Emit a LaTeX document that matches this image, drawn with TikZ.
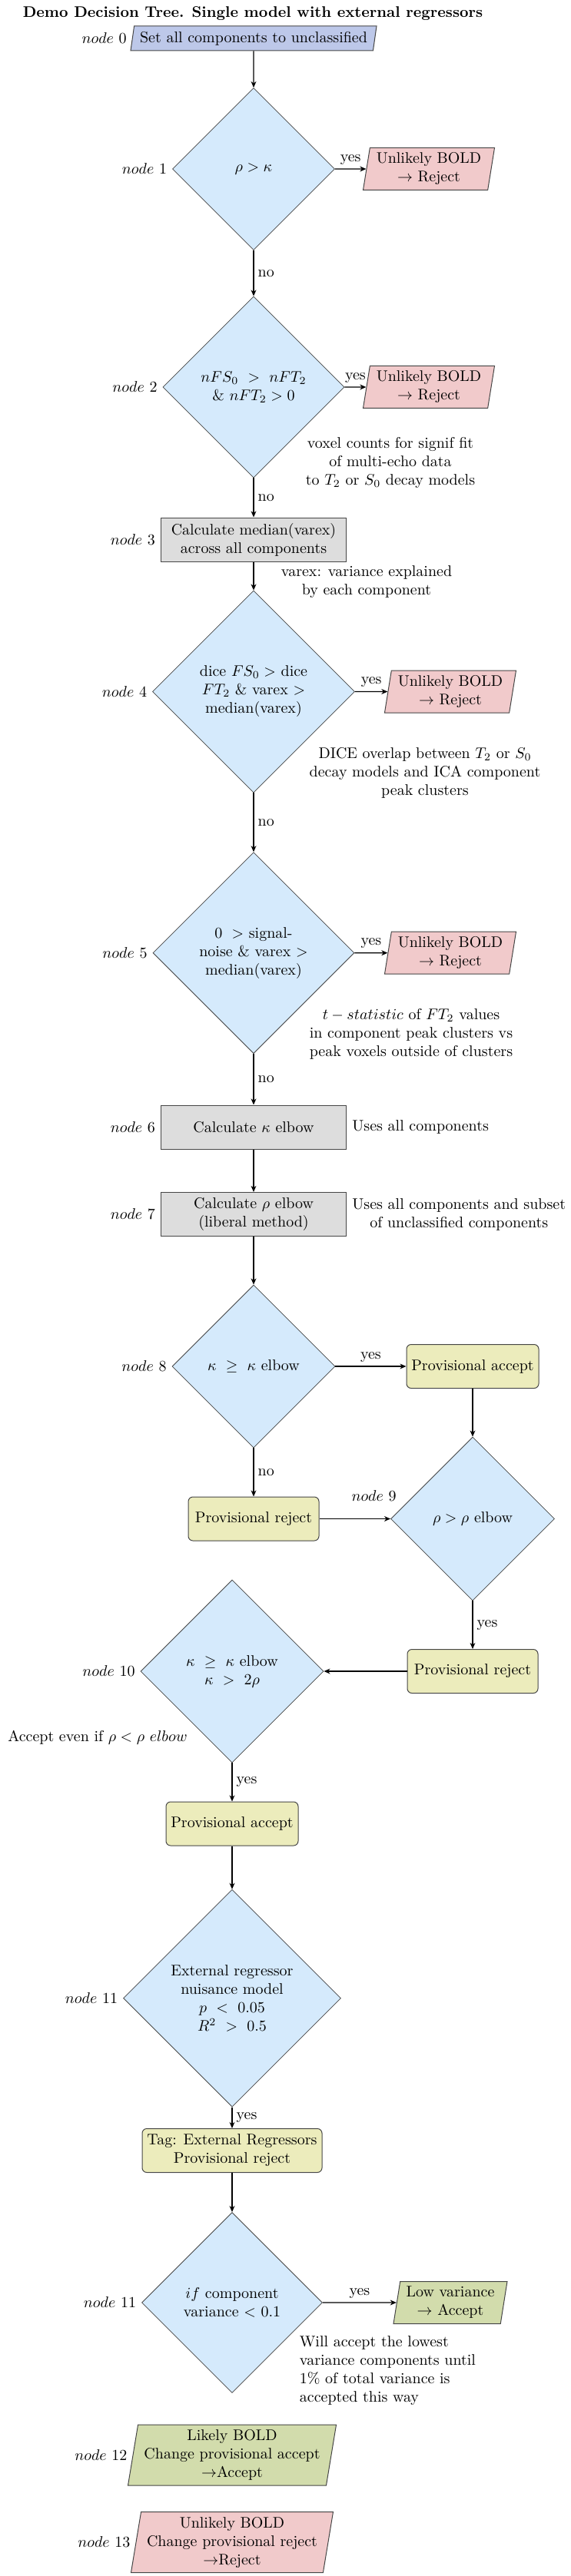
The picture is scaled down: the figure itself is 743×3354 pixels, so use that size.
\documentclass[tikz,border=0pt]{standalone}
\usetikzlibrary{shapes.geometric,arrows.meta}
\definecolor{lavb}{RGB}{189,200,233}
\definecolor{dblue}{RGB}{213,234,252}
\definecolor{rpink}{RGB}{241,202,203}
\definecolor{pgray}{RGB}{221,221,221}
\definecolor{pyel}{RGB}{236,236,188}
\definecolor{lgreen}{RGB}{210,220,172}
\definecolor{edgec}{RGB}{70,70,70}
\tikzset{
  decision/.style={diamond, aspect=1, draw=edgec, fill=dblue, inner sep=0pt, align=center, line width=0.4pt},
  procbox/.style={rectangle, draw=edgec, fill=pgray, minimum width=120.5pt, minimum height=28.5pt, align=center, inner sep=2pt, line width=0.5pt},
  provbox/.style={rectangle, rounded corners=3pt, draw=edgec, fill=pyel, minimum height=28.5pt, align=center, inner sep=2pt, line width=0.5pt},
  iobox/.style={trapezium, trapezium left angle=80, trapezium right angle=100, trapezium stretches body, draw=edgec, align=center, inner sep=2pt, line width=0.5pt},
  arr/.style={-{Stealth[length=4pt,width=3.4pt,inset=1.2pt]}, line width=0.7pt},
  note/.style={inner sep=0pt, align=center},
  elab/.style={inner sep=2.5pt},
}
\begin{document}
\begin{tikzpicture}[x=0.5pt,y=-0.5pt]
\useasboundingbox (0,0) rectangle (743,3354);
\node[font=\bfseries] (title) at (329,18) {Demo Decision Tree. Single model with external regressors};
\node[iobox, fill=lavb, minimum width=160pt, minimum height=16pt, label={left:$node$ 0}] (n0) at (330,50) {Set all components to unclassified};
\node[decision, minimum width=105.5pt, minimum height=105.5pt, label={left:$node$ 1}] (d1) at (330,220) {$\rho > \kappa$};
\node[iobox, fill=rpink, minimum width=85.5pt, minimum height=27.5pt] (r1) at (558,220) {Unlikely BOLD\\$\rightarrow$ Reject};
\node[decision, minimum width=118pt, minimum height=118pt, label={left:$node$ 2}] (d2) at (330,504) {$nFS_0\ >\ nFT_2$\\\& $nFT_2>0$};
\node[iobox, fill=rpink, minimum width=85.5pt, minimum height=27.5pt] (r2) at (558,504) {Unlikely BOLD\\$\rightarrow$ Reject};
\node[note] (t2) at (508,603) {voxel counts for signif fit\\of multi-echo data\\to $T_2$ or $S_0$ decay models};
\node[procbox, label={left:$node$ 3}] (n3) at (330,702.5) {Calculate median(varex)\\across all components};
\node[note] (t3) at (477,758) {varex: variance explained\\by each component};
\node[decision, minimum width=131.5pt, minimum height=131.5pt, label={left:$node$ 4}] (d4) at (330,900.5) {dice $FS_0 >$ dice\\$FT_2$ \& varex $>$\\median(varex)};
\node[iobox, fill=rpink, minimum width=85.5pt, minimum height=27.5pt] (r4) at (586,900.5) {Unlikely BOLD\\$\rightarrow$ Reject};
\node[note] (t4) at (553,1006) {DICE overlap between $T_2$ or $S_0$\\decay models and ICA component\\peak clusters};
\node[decision, minimum width=131pt, minimum height=131pt, label={left:$node$ 5}] (d5) at (330,1240.7) {$0\ >$ signal-\\noise \& varex $>$\\median(varex)};
\node[iobox, fill=rpink, minimum width=85.5pt, minimum height=27.5pt] (r5) at (586,1240.7) {Unlikely BOLD\\$\rightarrow$ Reject};
\node[note] (t5) at (535,1346.7) {$t-statistic$ of $FT_2$ values\\in component peak clusters vs\\peak voxels outside of clusters};
\node[procbox, label={left:$node$ 6}] (n6) at (330,1467.5) {Calculate $\kappa$ elbow};
\node[note, anchor=west] (t6) at (458,1467.5) {Uses all components};
\node[procbox, label={left:$node$ 7}] (n7) at (330,1581) {Calculate $\rho$ elbow\\(liberal method)};
\node[note, anchor=west] (t7) at (458,1581) {Uses all components and subset\\of unclassified components};
\node[decision, minimum width=106pt, minimum height=106pt, label={left:$node$ 8}] (d8) at (330,1779) {$\kappa\ \geq\ \kappa$ elbow};
\node[provbox, minimum width=86pt] (pa1) at (615,1779) {Provisional accept};
\node[provbox, minimum width=85pt] (pr1) at (330,1977.5) {Provisional reject};
\node[decision, minimum width=106.5pt, minimum height=106.5pt] (d9) at (615,1977.5) {$\rho > \rho$ elbow};
\node[anchor=east, inner sep=0pt] (l9) at (516,1948) {$node$ 9};
\node[provbox, minimum width=85pt] (pr2) at (615,2176) {Provisional reject};
\node[decision, minimum width=119pt, minimum height=119pt, label={left:$node$ 10}] (d10) at (302,2176) {$\kappa\ \geq\ \kappa$ elbow\\$\kappa\ >\ 2\rho$};
\node[note] (t10) at (127,2262) {Accept even if $\rho < \rho\ elbow$};
\node[provbox, minimum width=86pt] (pa2) at (302,2374.5) {Provisional accept};
\node[decision, minimum width=141.5pt, minimum height=141.5pt, label={left:$node$ 11}] (d11) at (302,2601.7) {External regressor\\nuisance model\\$p\ <\ 0.05$\\$R^2\ >\ 0.5$};
\node[provbox, minimum width=117pt] (tag) at (302,2800) {Tag: External Regressors\\Provisional reject};
\node[decision, minimum width=117.5pt, minimum height=117.5pt, label={left:$node$ 11}] (d12) at (302,2998) {$if$ component\\variance $<$ 0.1};
\node[iobox, fill=lgreen, minimum width=74pt, minimum height=27.5pt] (lv) at (586,2998) {Low variance\\$\rightarrow$ Accept};
\node[note, align=left, anchor=west] (t12) at (389.5,3087) {Will accept the lowest\\variance components until\\1\% of total variance is\\accepted this way};
\node[iobox, fill=lgreen, minimum width=135.5pt, minimum height=39.5pt, label={left:$node$ 12}] (n12) at (302,3196.7) {Likely BOLD\\Change provisional accept\\$\rightarrow$Accept};
\node[iobox, fill=rpink, minimum width=131.5pt, minimum height=39.5pt, label={left:$node$ 13}] (n13) at (302,3310) {Unlikely BOLD\\Change provisional reject\\$\rightarrow$Reject};

\draw[arr] (n0) -- (d1);
\draw[arr] (d1) -- node[elab, above]{yes} (r1);
\draw[arr] (d1) -- node[elab, right]{no} (d2);
\draw[arr] (d2) -- node[elab, above]{yes} (r2);
\draw[arr] (d2) -- node[elab, right]{no} (n3);
\draw[arr] (n3) -- (d4);
\draw[arr] (d4) -- node[elab, above]{yes} (r4);
\draw[arr] (d4) -- node[elab, right]{no} (d5);
\draw[arr] (d5) -- node[elab, above]{yes} (r5);
\draw[arr] (d5) -- node[elab, right]{no} (n6);
\draw[arr] (n6) -- (n7);
\draw[arr] (n7) -- (d8);
\draw[arr] (d8) -- node[elab, above]{yes} (pa1);
\draw[arr] (d8) -- node[elab, right]{no} (pr1);
\draw[arr] (pa1) -- (d9);
\draw[arr] (pr1) -- (d9);
\draw[arr] (d9) -- node[elab, right]{yes} (pr2);
\draw[arr] (pr2) -- (d10);
\draw[arr] (d10) -- node[elab, right]{yes} (pa2);
\draw[arr] (pa2) -- (d11);
\draw[arr] (d11) -- node[elab, right]{yes} (tag);
\draw[arr] (tag) -- (d12);
\draw[arr] (d12) -- node[elab, above]{yes} (lv);
\end{tikzpicture}
\end{document}
